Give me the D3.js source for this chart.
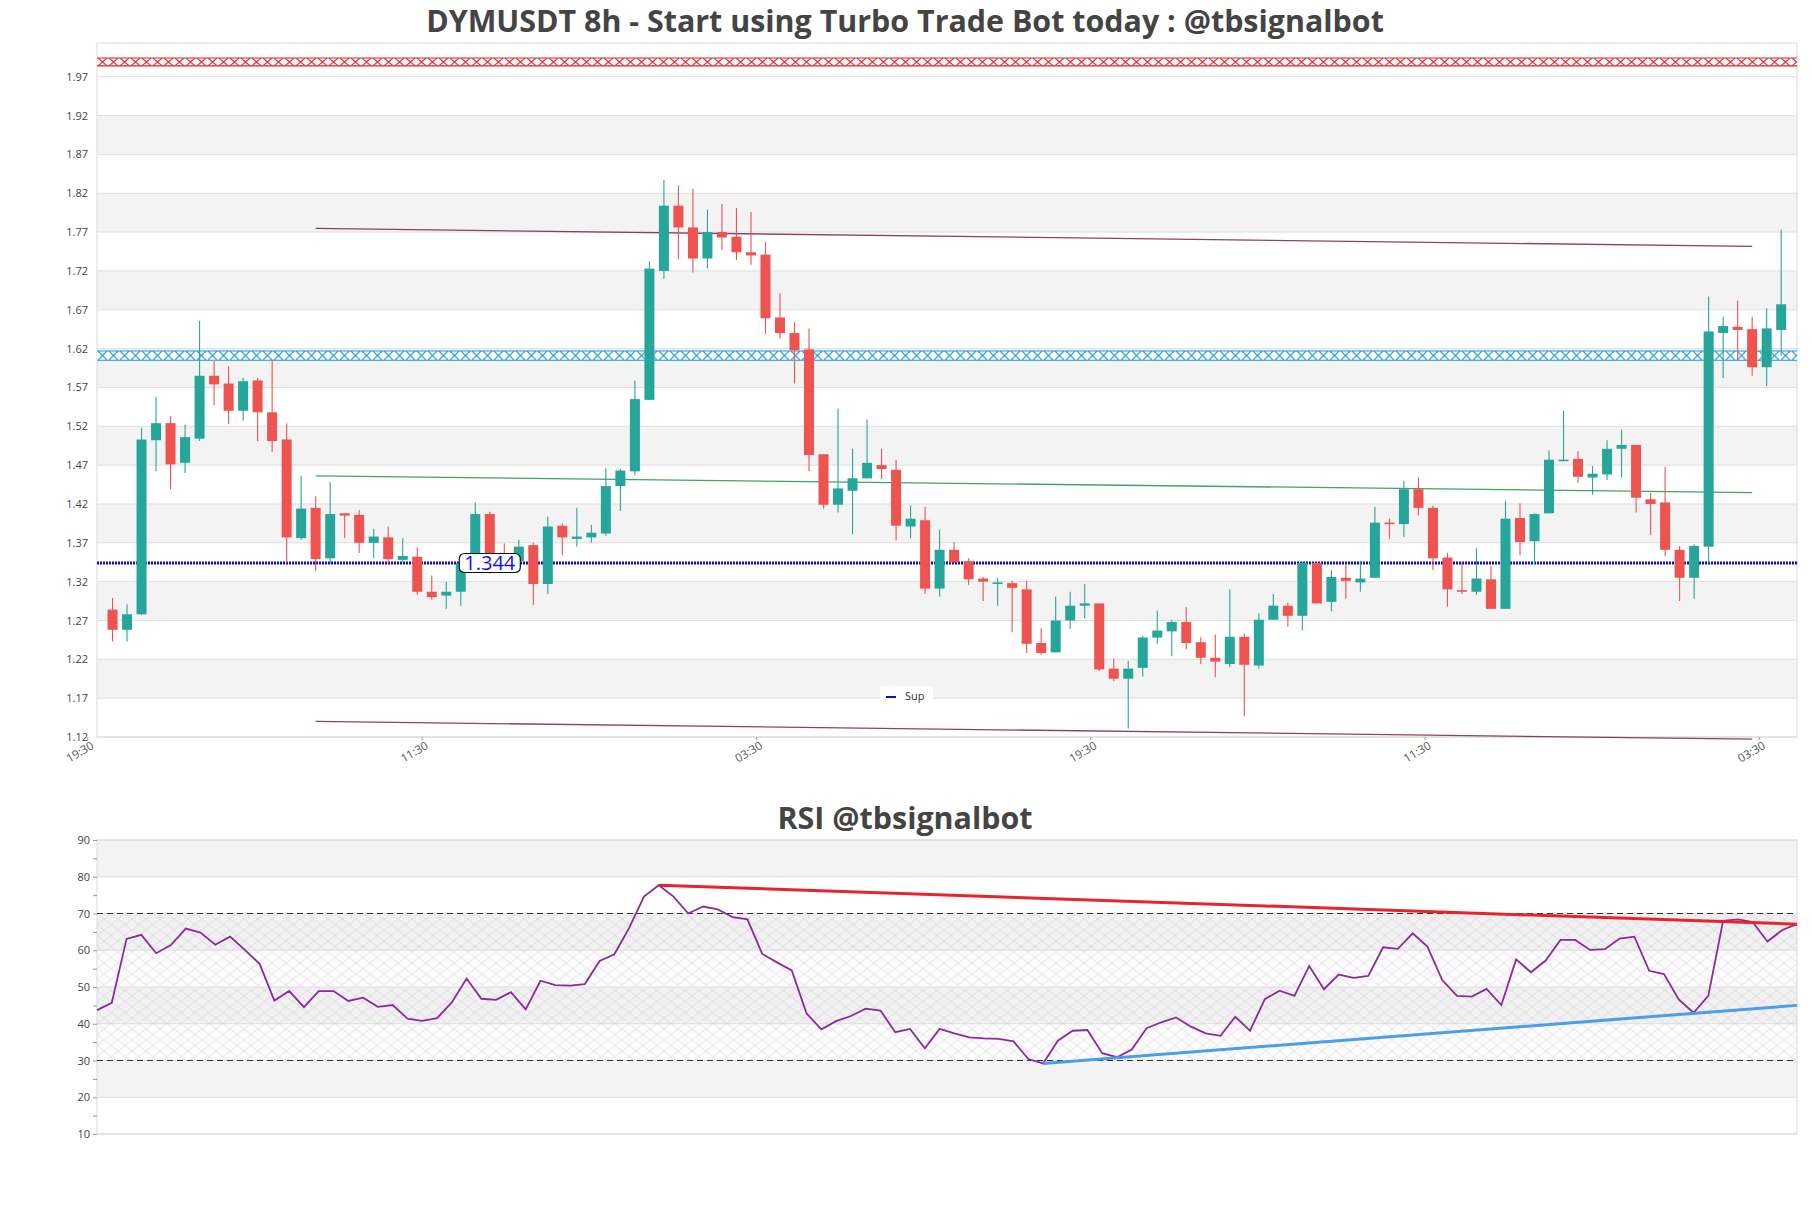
<!DOCTYPE html>
<html>
<head>
<meta charset="utf-8">
<script src="https://cdn.jsdelivr.net/npm/d3@7"></script>
<style>
  body { margin: 0; background: #fff; }
  svg { display: block; font-family: "Open Sans", "Noto Sans", sans-serif; }
</style>
</head>
<body>
<svg id="chart" width="1811" height="1208"></svg>
<script>
// candles, 8h
const opens = [1.284,1.258,1.278,1.502,1.524,1.473,1.504,1.585,1.575,1.540,1.579,1.538,1.503,1.376,1.415,1.350,1.408,1.406,1.370,1.377,
  1.348,1.352,1.307,1.302,1.307,1.344,1.407,1.352,1.346,1.367,1.317,1.392,1.375,1.377,1.382,1.443,1.462,1.554,1.720,1.804,
  1.776,1.736,1.770,1.764,1.744,1.741,1.660,1.640,1.619,1.484,1.419,1.437,1.453,1.470,1.464,1.391,1.399,1.311,1.361,1.346,
  1.324,1.318,1.318,1.310,1.241,1.229,1.270,1.289,1.292,1.208,1.195,1.209,1.248,1.256,1.268,1.242,1.222,1.214,1.249,1.212,
  1.271,1.289,1.276,1.344,1.294,1.325,1.319,1.325,1.396,1.394,1.439,1.415,1.351,1.309,1.307,1.323,1.285,1.402,1.372,1.408,
  1.476,1.478,1.454,1.458,1.491,1.496,1.426,1.422,1.361,1.325,1.365,1.640,1.648,1.645,1.596,1.644]
const highs = [1.299,1.291,1.518,1.558,1.533,1.522,1.656,1.604,1.597,1.582,1.582,1.606,1.524,1.456,1.430,1.448,1.408,1.412,1.388,1.391,
  1.376,1.364,1.328,1.320,1.352,1.422,1.410,1.369,1.374,1.370,1.404,1.395,1.415,1.393,1.466,1.465,1.579,1.732,1.837,1.830,
  1.826,1.799,1.806,1.801,1.796,1.757,1.691,1.654,1.646,1.484,1.543,1.491,1.529,1.491,1.477,1.418,1.416,1.387,1.371,1.350,
  1.326,1.325,1.321,1.321,1.260,1.301,1.307,1.317,1.292,1.221,1.218,1.250,1.283,1.271,1.287,1.248,1.252,1.310,1.253,1.279,
  1.304,1.293,1.345,1.345,1.335,1.343,1.346,1.416,1.401,1.450,1.454,1.418,1.357,1.344,1.363,1.340,1.424,1.421,1.408,1.489,
  1.540,1.488,1.469,1.502,1.516,1.496,1.434,1.468,1.366,1.368,1.687,1.661,1.682,1.661,1.672,1.773]
const lows = [1.243,1.243,1.277,1.462,1.439,1.460,1.501,1.547,1.523,1.527,1.501,1.487,1.344,1.374,1.334,1.343,1.376,1.357,1.350,1.344,
  1.346,1.303,1.297,1.285,1.289,1.340,1.330,1.338,1.335,1.290,1.304,1.354,1.365,1.370,1.379,1.411,1.457,1.554,1.710,1.735,
  1.718,1.723,1.747,1.734,1.728,1.639,1.633,1.575,1.462,1.414,1.409,1.381,1.452,1.452,1.373,1.376,1.304,1.301,1.344,1.316,
  1.295,1.289,1.255,1.228,1.226,1.229,1.259,1.273,1.205,1.192,1.131,1.198,1.240,1.224,1.233,1.214,1.197,1.210,1.147,1.208,
  1.271,1.262,1.257,1.292,1.282,1.298,1.307,1.325,1.375,1.377,1.405,1.335,1.288,1.304,1.303,1.285,1.285,1.354,1.343,1.408,
  1.475,1.447,1.432,1.451,1.454,1.409,1.380,1.353,1.295,1.298,1.344,1.582,1.606,1.585,1.572,1.611]
const closes = [1.258,1.278,1.503,1.524,1.471,1.506,1.585,1.574,1.540,1.578,1.538,1.501,1.377,1.414,1.349,1.407,1.405,1.370,1.378,1.349,
  1.353,1.307,1.300,1.307,1.344,1.407,1.352,1.347,1.365,1.317,1.391,1.377,1.378,1.383,1.443,1.463,1.555,1.723,1.804,1.776,
  1.736,1.770,1.763,1.744,1.740,1.659,1.640,1.618,1.483,1.419,1.440,1.453,1.473,1.465,1.392,1.401,1.311,1.361,1.345,1.323,
  1.320,1.319,1.312,1.240,1.228,1.270,1.289,1.292,1.207,1.195,1.208,1.248,1.257,1.268,1.241,1.222,1.217,1.249,1.213,1.271,
  1.289,1.276,1.344,1.292,1.326,1.321,1.324,1.396,1.394,1.439,1.415,1.350,1.310,1.307,1.324,1.285,1.401,1.371,1.407,1.477,
  1.477,1.455,1.459,1.491,1.496,1.428,1.420,1.361,1.325,1.366,1.642,1.649,1.644,1.596,1.646,1.677]

const rsi = [43.7,45.7,63.1,64.2,59.2,61.4,65.9,64.8,61.5,63.7,60.1,56.3,46.3,48.9,44.5,48.9,48.9,46.2,47.1,44.6,
  45.1,41.4,40.8,41.5,45.8,52.3,46.8,46.5,48.6,43.9,51.7,50.5,50.4,50.8,57.1,58.9,66.1,74.6,77.7,74.6,
  70.0,71.9,71.1,69.0,68.4,59.0,56.7,54.5,42.8,38.5,40.7,42.1,44.1,43.6,37.7,38.6,33.3,38.6,37.4,36.3,
  36.0,35.9,35.2,30.4,29.2,35.4,38.1,38.3,32.0,30.9,33.0,38.8,40.4,41.7,39.2,37.4,36.7,41.9,38.1,46.7,
  49.0,47.6,55.7,49.4,53.4,52.5,53.0,60.8,60.4,64.6,61.0,51.9,47.6,47.4,49.5,45.1,57.5,54.0,57.2,62.8,
  62.8,60.1,60.3,63.2,63.7,54.4,53.5,46.6,43.0,47.6,68.0,68.4,67.7,62.4,65.5,67.1]

const priceTicks = ["1.12","1.17","1.22","1.27","1.32","1.37","1.42","1.47","1.52","1.57","1.62","1.67","1.72","1.77","1.82","1.87","1.92","1.97"]
const rsiTicks = [10,15,20,25,30,35,40,45,50,55,60,65,70,75,80,85,90]
const timeLabels = ["19:30","11:30","03:30","19:30","11:30","03:30"]
const timePos = [-1.71,21.33,44.37,67.41,90.45,113.49]   // in candle units

// levels and trend lines
const redZone = [1.984, 1.994]
const blueZone = [1.605, 1.617]
const supLevel = 1.344
const trendIdx = [14, 113]
const topTrend = [1.7747, 1.7516]
const midTrend = [1.4561, 1.4347]
const lowTrend = [1.1401, 1.1173]
const rsiRedIdx = [38, 115], rsiRed = [77.7, 67.1]
const rsiBlueIdx = [64, 115], rsiBlue = [29.2, 45.0]

const svg = d3.select("#chart")
const L = 97, R = 1797
const mTop = 43, mBot = 737
const rTop = 840, rBot = 1134

const x = d3.scaleLinear().domain([-1.07, 116.09]).range([L, R])
const y = d3.scaleLinear().domain([1.12, 2.0134]).range([mBot, mTop])
const xr = d3.scaleLinear().domain([0, rsi.length - 1]).range([L, R])
const yr = d3.scaleLinear().domain([10, 90]).range([rBot, rTop])

const defs = svg.append("defs")

// titles
const title = svg.append("text")
  .attr("x", 905).attr("y", 32)
  .attr("text-anchor", "middle").attr("font-weight", "bold")
  .attr("font-size", 29).attr("fill", "#444")
  .text("DYMUSDT 8h - Start using Turbo Trade Bot today : @tbsignalbot")
const tw = title.node().getComputedTextLength()
const titleSize = 29 * 958 / tw
title.attr("font-size", titleSize)

svg.append("text")
  .attr("x", 905).attr("y", 829)
  .attr("text-anchor", "middle").attr("font-weight", "bold")
  .attr("font-size", titleSize).attr("fill", "#444")
  .text("RSI @tbsignalbot")

// ---------- price panel ----------
const pv = priceTicks.map(Number)
const main = svg.append("g")

main.selectAll(".band")
  .data(pv.filter((d, i) => i % 2 == 1 && i < pv.length - 1))
  .enter().append("rect")
  .attr("x", L).attr("width", R - L)
  .attr("y", d => y(d + 0.05)).attr("height", d => y(d) - y(d + 0.05))
  .attr("fill", "#f3f3f3")

main.selectAll(".grid")
  .data(pv).enter().append("line")
  .attr("x1", L).attr("x2", R)
  .attr("y1", d => y(d)).attr("y2", d => y(d))
  .attr("stroke", "#dedede").attr("stroke-width", 1)

main.append("rect")
  .attr("x", L).attr("y", mTop).attr("width", R - L).attr("height", mBot - mTop)
  .attr("fill", "none").attr("stroke", "#d9d9d9")

const yAxis = d3.axisLeft(y).tickValues(pv).tickFormat((d, i) => priceTicks[i]).tickSize(0).tickPadding(9)
main.append("g").attr("transform", `translate(${L},0)`).call(yAxis)
  .call(g => g.select(".domain").remove())
  .selectAll("text").attr("font-size", 11).attr("fill", "#444").attr("font-family", "Open Sans")

// hatched zones
function zone(range, color, id) {
  const top = y(range[1]), bot = y(range[0]), h = bot - top
  const p = defs.append("pattern").attr("id", id)
    .attr("patternUnits", "userSpaceOnUse")
    .attr("x", L).attr("y", top).attr("width", 11).attr("height", h)
  p.append("path").attr("d", `M1,0 L10,${h} M10,0 L1,${h}`)
    .attr("stroke", color).attr("stroke-width", 1.1).attr("fill", "none")
  main.append("rect").attr("x", L).attr("width", R - L).attr("y", top).attr("height", h)
    .attr("fill", "#fff").attr("fill-opacity", 0.85)
  main.append("rect").attr("x", L).attr("width", R - L).attr("y", top).attr("height", h)
    .attr("fill", `url(#${id})`)
  main.selectAll(null).data([top, bot]).enter().append("line")
    .attr("x1", L).attr("x2", R).attr("y1", d => d).attr("y2", d => d)
    .attr("stroke", color).attr("stroke-width", 1.1)
}
zone(redZone, "#e0262b", "hatchRed")
zone(blueZone, "#1f9ad6", "hatchBlue")

// support dotted line
main.append("line")
  .attr("x1", L).attr("x2", R).attr("y1", y(supLevel)).attr("y2", y(supLevel))
  .attr("stroke", "#0a0ac8").attr("stroke-width", 2.8).attr("stroke-dasharray", "2 1")

// trend lines
const tl = d3.line().x(d => x(d[0])).y(d => y(d[1]))
;[[topTrend, "#7e3148"], [midTrend, "#2e9a4c"], [lowTrend, "#7e3148"]].forEach(([v, c]) => {
  main.append("path")
    .attr("d", tl([[trendIdx[0], v[0]], [trendIdx[1], v[1]]]))
    .attr("stroke", c).attr("stroke-width", 1.3).attr("fill", "none").attr("stroke-opacity", 0.9)
})

// candles
const candles = opens.map((o, i) => ({i, o, h: highs[i], l: lows[i], c: closes[i]}))
const col = d => d.c >= d.o ? "#26a69a" : "#ef5350"
main.selectAll(".wick").data(candles).enter().append("line")
  .attr("x1", d => x(d.i)).attr("x2", d => x(d.i))
  .attr("y1", d => y(d.h)).attr("y2", d => y(d.l))
  .attr("stroke", col).attr("stroke-width", 1.1)
main.selectAll(".body").data(candles).enter().append("rect")
  .attr("x", d => x(d.i) - 5).attr("width", 10)
  .attr("y", d => y(Math.max(d.o, d.c)))
  .attr("height", d => Math.max(1.5, Math.abs(y(d.o) - y(d.c))))
  .attr("fill", col)

// x ticks and labels
main.selectAll(".xt").data(timePos).enter().append("line")
  .attr("x1", d => x(d)).attr("x2", d => x(d)).attr("y1", mBot).attr("y2", mBot + 3)
  .attr("stroke", "#999")
main.selectAll(".xl").data(timePos).enter().append("text")
  .attr("transform", d => `translate(${x(d) + 7},${mBot + 11}) rotate(-30)`)
  .attr("text-anchor", "end").attr("font-size", 11.5).attr("fill", "#555")
  .text((d, i) => timeLabels[i])

// price tag
const tag = main.append("g").attr("transform", `translate(${x(26)},${y(supLevel)})`)
tag.append("rect").attr("x", -30.5).attr("y", -9.5).attr("width", 61).attr("height", 19)
  .attr("rx", 5).attr("fill", "#fff").attr("stroke", "#111").attr("stroke-width", 1.2)
tag.append("text").attr("text-anchor", "middle").attr("y", 7.5)
  .attr("font-size", 20).attr("fill", "#1010f0").text("1.344")

// legend
const lg = main.append("g").attr("transform", "translate(880,686)")
lg.append("rect").attr("width", 53).attr("height", 19).attr("fill", "#fff")
lg.append("line").attr("x1", 6).attr("x2", 16).attr("y1", 11).attr("y2", 11)
  .attr("stroke", "#1010c0").attr("stroke-width", 2)
lg.append("text").attr("x", 25).attr("y", 14).attr("font-size", 11).attr("fill", "#333").text("Sup")

// ---------- RSI panel ----------
const rp = svg.append("g")
rp.selectAll(".band").data([20, 40, 60, 80]).enter().append("rect")
  .attr("x", L).attr("width", R - L)
  .attr("y", d => yr(d + 10)).attr("height", d => yr(d) - yr(d + 10))
  .attr("fill", "#f3f3f3")

const lat = defs.append("pattern").attr("id", "lattice")
  .attr("patternUnits", "userSpaceOnUse").attr("x", L).attr("y", yr(70))
  .attr("width", 14).attr("height", 11)
lat.append("path").attr("d", "M0,0 L14,11 M14,0 L0,11")
  .attr("stroke", "#b3a8bb").attr("stroke-width", 0.6).attr("fill", "none").attr("stroke-opacity", 0.5)
rp.append("rect").attr("x", L).attr("width", R - L)
  .attr("y", yr(70)).attr("height", yr(30) - yr(70))
  .attr("fill", "#ece4f0").attr("fill-opacity", 0.12)
rp.append("rect").attr("x", L).attr("width", R - L)
  .attr("y", yr(70)).attr("height", yr(30) - yr(70))
  .attr("fill", "url(#lattice)")

rp.selectAll(".grid").data(d3.range(10, 91, 10)).enter().append("line")
  .attr("x1", L).attr("x2", R).attr("y1", d => yr(d)).attr("y2", d => yr(d))
  .attr("stroke", "#dedede")

rp.append("rect").attr("x", L).attr("y", rTop).attr("width", R - L).attr("height", rBot - rTop)
  .attr("fill", "none").attr("stroke", "#d9d9d9")

rp.selectAll(".lvl").data([30, 70]).enter().append("line")
  .attr("x1", L).attr("x2", R).attr("y1", d => yr(d)).attr("y2", d => yr(d))
  .attr("stroke", "#333").attr("stroke-width", 1.2).attr("stroke-dasharray", "6 4")

const rAxis = d3.axisLeft(yr).tickValues(rsiTicks).tickFormat(d => d % 10 == 0 ? d : "").tickSize(4).tickPadding(3)
rp.append("g").attr("transform", `translate(${L},0)`).call(rAxis)
  .call(g => g.select(".domain").remove())
  .call(g => g.selectAll("line").attr("stroke", "#999"))
  .selectAll("text").attr("font-size", 11).attr("fill", "#444").attr("font-family", "Open Sans")

rp.append("path")
  .attr("d", d3.line().x((d, i) => xr(i)).y(d => yr(d))(rsi))
  .attr("fill", "none").attr("stroke", "#8d2a9e").attr("stroke-width", 1.8)

rp.append("path")
  .attr("d", d3.line()([[xr(rsiRedIdx[0]), yr(rsiRed[0])], [xr(rsiRedIdx[1]), yr(rsiRed[1])]]))
  .attr("stroke", "#e8232a").attr("stroke-width", 3).attr("fill", "none")
rp.append("path")
  .attr("d", d3.line()([[xr(rsiBlueIdx[0]), yr(rsiBlue[0])], [xr(rsiBlueIdx[1]), yr(rsiBlue[1])]]))
  .attr("stroke", "#4a9fe8").attr("stroke-width", 3).attr("fill", "none")
</script>
</body>
</html>
